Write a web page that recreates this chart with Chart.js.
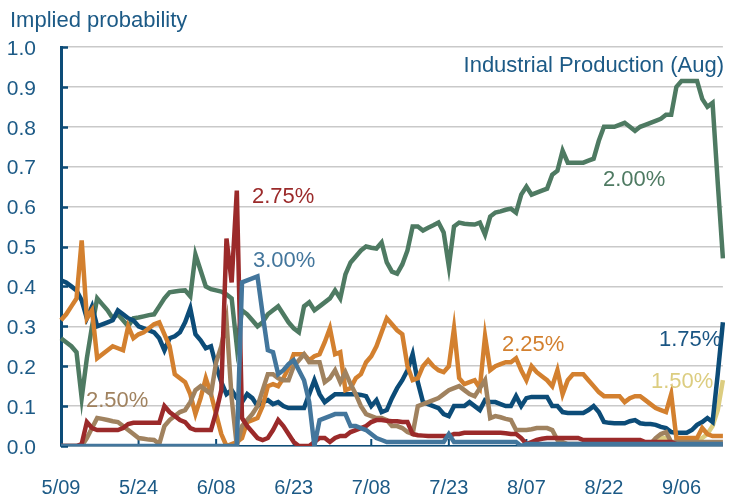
<!DOCTYPE html>
<html>
<head>
<meta charset="utf-8">
<script src="https://cdn.jsdelivr.net/npm/chart.js@4.4.0/dist/chart.umd.min.js"></script>
<style>
  body { margin: 0; background: #fff; }
  canvas { display: block; }
</style>
</head>
<body>
<canvas id="probChart" width="731" height="497"></canvas>
<script>
// daily dates 5/09 .. 9/14, one tick label every 15 days
const monthSpans = [[5, 9, 31], [6, 1, 30], [7, 1, 31], [8, 1, 31], [9, 1, 14]];
const dates = [];
monthSpans.forEach(([m, from, to]) => {
  for (let d = from; d <= to; d++) dates.push(m + "/" + String(d).padStart(2, "0"));
});
const tickEvery = 15;

const rate300 = [
  0, 0, 0, 0, 0, 0, 0, 0, 0, 0,
  0, 0, 0, 0, 0, 0, 0, 0, 0, 0,
  0, 0, 0, 0, 0, 0, 0, 0, 0, 0,
  0, 0, 0, 0, 0, 0.41, 0.415, 0.42, 0.425, 0.33,
  0.24, 0.235, 0.18, 0.19, 0.205, 0.215, 0.19, 0.165, 0.11, 0.0,
  0.065, 0.07, 0.075, 0.08, 0.08, 0.08, 0.05, 0.05, 0.045, 0.04,
  0.03, 0.02, 0.015, 0.01, 0.01, 0.01, 0.01, 0.01, 0.01, 0.01,
  0.01, 0.01, 0.01, 0.01, 0.01, 0.03, 0.01, 0.01, 0.01, 0.01,
  0.01, 0.01, 0.01, 0.01, 0.01, 0.01, 0.01, 0.01, 0.01, 0.0,
  0.005, 0.005, 0.005, 0.005, 0.005, 0.005, 0.005, 0.005, 0.005, 0.005,
  0.005, 0.005, 0.005, 0.005, 0.005, 0.005, 0.005, 0.005, 0.005, 0.005,
  0.005, 0.005, 0.005, 0.005, 0.005, 0.005, 0.005, 0.005, 0.005, 0.005,
  0.005, 0.005, 0.005, 0.005, 0.005, 0.005, 0.005, 0.005, 0.005
];
const rate275 = [
  0, 0, 0, 0, 0.005, 0.06, 0.045, 0.04, 0.04, 0.04,
  0.04, 0.04, 0.045, 0.055, 0.058, 0.058, 0.058, 0.058, 0.058, 0.058,
  0.10, 0.085, 0.075, 0.065, 0.06, 0.045, 0.04, 0.04, 0.04, 0.04,
  0.085, 0.14, 0.52, 0.41, 0.64, 0.07, 0.05, 0.035, 0.02, 0.015,
  0.02, 0.04, 0.065, 0.05, 0.03, 0.01, 0.0, 0.0, 0.0, 0.01,
  0.02, 0.02, 0.01, 0.02, 0.025, 0.025, 0.035, 0.04, 0.045, 0.05,
  0.06, 0.065, 0.065, 0.063, 0.062, 0.062, 0.06, 0.06, 0.03, 0.027,
  0.026, 0.025, 0.025, 0.025, 0.025, 0.025, 0.03, 0.03, 0.033, 0.033,
  0.033, 0.033, 0.033, 0.033, 0.033, 0.033, 0.032, 0.03, 0.03, 0.02,
  0.005, 0.01, 0.015, 0.018, 0.02, 0.02, 0.02, 0.02, 0.02, 0.02,
  0.02, 0.015, 0.015, 0.015, 0.015, 0.015, 0.015, 0.015, 0.015, 0.015,
  0.015, 0.015, 0.015, 0.01, 0.01, 0.01, 0.01, 0.01, 0.01, 0.005,
  0, 0, 0, 0, 0, 0, 0, 0, 0
];
const rate250 = [
  0, 0, 0, 0, 0, 0.02, 0.045, 0.07, 0.068, 0.065,
  0.062, 0.06, 0.05, 0.04, 0.03, 0.02, 0.018, 0.016, 0.015, 0.005,
  0.05, 0.065, 0.075, 0.085, 0.09, 0.11, 0.14, 0.15, 0.14, 0.13,
  0.21, 0.25, 0.315, 0.12, 0.0, 0.05, 0.065, 0.08, 0.10, 0.14,
  0.18, 0.18, 0.17, 0.165, 0.165, 0.20, 0.215, 0.23, 0.21, 0.21,
  0.21, 0.16, 0.17, 0.19, 0.16, 0.185, 0.155, 0.13, 0.10, 0.08,
  0.075, 0.07, 0.07, 0.065, 0.05, 0.05, 0.045, 0.035, 0.03, 0.10,
  0.105, 0.11, 0.115, 0.12, 0.13, 0.14, 0.145, 0.15, 0.14, 0.13,
  0.125, 0.145, 0.165, 0.07, 0.075, 0.072, 0.068, 0.065, 0.04, 0.04,
  0.04, 0.042, 0.045, 0.045, 0.045, 0.04, 0.015, 0.01, 0.005, 0.005,
  0.005, 0.005, 0.005, 0.005, 0.005, 0.005, 0.005, 0.005, 0.005, 0.005,
  0.005, 0.005, 0.005, 0.005, 0.005, 0.02, 0.03, 0.035, 0.01, 0.01,
  0.01, 0.01, 0.01, 0.01, 0.01, 0.01, 0.01, 0.01, 0.01
];
const rate225 = [
  0.315, 0.33, 0.35, 0.37, 0.515, 0.32, 0.34, 0.22, 0.23, 0.24,
  0.25, 0.245, 0.24, 0.30, 0.27, 0.28, 0.285, 0.295, 0.305, 0.31,
  0.28, 0.25, 0.18, 0.17, 0.16, 0.13, 0.08, 0.12, 0.17, 0.13,
  0.08, 0.03, 0.0, 0.005, 0.01, 0.02, 0.06, 0.065, 0.07, 0.10,
  0.15, 0.155, 0.15, 0.17, 0.195, 0.23, 0.23, 0.23, 0.215, 0.225,
  0.23, 0.26, 0.295, 0.23, 0.235, 0.14, 0.145, 0.17, 0.18, 0.21,
  0.225, 0.25, 0.285, 0.32, 0.305, 0.29, 0.28, 0.20, 0.165, 0.17,
  0.20, 0.215, 0.20, 0.19, 0.185, 0.20, 0.295, 0.17, 0.155, 0.16,
  0.165, 0.145, 0.275, 0.19, 0.20, 0.205, 0.21, 0.21, 0.22, 0.19,
  0.165, 0.20, 0.185, 0.175, 0.165, 0.15, 0.19, 0.13, 0.165, 0.18,
  0.18, 0.18, 0.165, 0.15, 0.135, 0.125, 0.125, 0.125, 0.125, 0.11,
  0.12, 0.125, 0.125, 0.115, 0.105, 0.095, 0.09, 0.085, 0.13, 0.02,
  0.02, 0.02, 0.02, 0.02, 0.045, 0.03, 0.025, 0.025, 0.025
];
const rate200 = [
  0.27, 0.26, 0.25, 0.235, 0.12, 0.22, 0.30, 0.37, 0.355, 0.34,
  0.32, 0.33, 0.315, 0.30, 0.32, 0.322, 0.325, 0.328, 0.33, 0.35,
  0.37, 0.385, 0.387, 0.389, 0.39, 0.375, 0.48, 0.44, 0.40, 0.393,
  0.39, 0.387, 0.38, 0.37, 0.25, 0.34, 0.33, 0.315, 0.30, 0.31,
  0.33, 0.34, 0.35, 0.33, 0.31, 0.295, 0.285, 0.35, 0.36, 0.34,
  0.35, 0.36, 0.37, 0.39, 0.37, 0.43, 0.46, 0.475, 0.49, 0.50,
  0.497, 0.495, 0.51, 0.46, 0.437, 0.432, 0.455, 0.49, 0.55, 0.55,
  0.54, 0.547, 0.553, 0.56, 0.535, 0.45, 0.55, 0.56, 0.557, 0.556,
  0.555, 0.56, 0.53, 0.575, 0.585, 0.588, 0.592, 0.595, 0.585, 0.63,
  0.65, 0.63, 0.635, 0.64, 0.645, 0.68, 0.69, 0.74, 0.71, 0.71,
  0.71, 0.71, 0.715, 0.72, 0.765, 0.80, 0.80, 0.80, 0.805, 0.81,
  0.80, 0.79, 0.80, 0.805, 0.81, 0.815, 0.82, 0.83, 0.83, 0.90,
  0.915, 0.915, 0.915, 0.915, 0.87, 0.85, 0.86, 0.66, 0.47
];
const rate175 = [
  0.415, 0.41, 0.40, 0.39, 0.365, 0.32, 0.35, 0.30, 0.305, 0.31,
  0.315, 0.34, 0.33, 0.32, 0.315, 0.30, 0.295, 0.29, 0.285, 0.27,
  0.24, 0.27, 0.275, 0.285, 0.31, 0.345, 0.28, 0.265, 0.245, 0.25,
  0.20, 0.16, 0.13, 0.14, 0.12, 0.11, 0.13, 0.12, 0.10, 0.11,
  0.115, 0.105, 0.11, 0.10, 0.095, 0.095, 0.095, 0.095, 0.13, 0.165,
  0.13, 0.11, 0.12, 0.13, 0.13, 0.13, 0.13, 0.13, 0.128, 0.125,
  0.10, 0.115, 0.085, 0.09, 0.12, 0.145, 0.165, 0.19, 0.23, 0.16,
  0.11, 0.105, 0.10, 0.095, 0.08, 0.075, 0.10, 0.10, 0.10, 0.11,
  0.10, 0.09, 0.115, 0.11, 0.11, 0.105, 0.10, 0.10, 0.125, 0.10,
  0.12, 0.123, 0.123, 0.123, 0.123, 0.10, 0.10, 0.085, 0.083, 0.083,
  0.083, 0.083, 0.09, 0.10, 0.085, 0.06, 0.058, 0.057, 0.057, 0.057,
  0.062, 0.065, 0.057, 0.055, 0.055, 0.053, 0.048, 0.045, 0.035, 0.033,
  0.033, 0.033, 0.04, 0.053, 0.06, 0.07, 0.06, 0.18, 0.31
];
// 1.50% only starts trading near the end
const rate150 = [
  null, null, null, null, null, null, null, null, null, null,
  null, null, null, null, null, null, null, null, null, null,
  null, null, null, null, null, null, null, null, null, null,
  null, null, null, null, null, null, null, null, null, null,
  null, null, null, null, null, null, null, null, null, null,
  null, null, null, null, null, null, null, null, null, null,
  null, null, null, null, null, null, null, null, null, null,
  null, null, null, null, null, null, null, null, null, null,
  null, null, null, null, null, null, null, null, null, null,
  null, null, null, null, null, null, null, null, null, null,
  null, null, null, null, null, null, null, null, null, null,
  null, null, null, null, 0.0, 0.01, 0.02, 0.02, 0.01, 0.0,
  0.0, 0.0, 0.005, 0.01, 0.02, 0.03, 0.05, 0.09, 0.165
];

const navy = "#0c4c78";
const textColor = "#1c5a86";
const colors = {
  r300: "#43769c", r275: "#9b2a2a", r250: "#a0825f", r225: "#d3802f",
  r200: "#4e7a62", r175: "#0c4c78", r150: "#dccd80"
};

const seriesLabels = [
  { text: "2.75%", x: 252, y: 203, color: colors.r275 },
  { text: "3.00%", x: 253, y: 267, color: colors.r300 },
  { text: "2.00%", x: 603, y: 186, color: colors.r200 },
  { text: "2.25%", x: 502, y: 351, color: colors.r225 },
  { text: "2.50%", x: 86, y: 407, color: colors.r250 },
  { text: "1.75%", x: 659, y: 346, color: "#1a5583" },
  { text: "1.50%", x: 651, y: 388, color: colors.r150 }
];

const textPlugin = {
  id: "chartText",
  beforeDatasetsDraw(chart) {
    const { ctx, chartArea, scales } = chart;
    ctx.save();
    ctx.strokeStyle = navy;
    ctx.lineWidth = 2.5;
    scales.y.ticks.forEach(t => {
      const y = Math.round(scales.y.getPixelForValue(t.value)) + 0.5;
      ctx.beginPath();
      ctx.moveTo(chartArea.left, y);
      ctx.lineTo(chartArea.left + 7, y);
      ctx.stroke();
    });
    ctx.lineWidth = 2;
    for (let i = 0; i < dates.length; i += tickEvery) {
      const x = scales.x.getPixelForValue(i);
      ctx.beginPath();
      ctx.moveTo(x, chartArea.bottom);
      ctx.lineTo(x, chartArea.bottom - 7);
      ctx.stroke();
    }
    ctx.restore();
  },
  afterDraw(chart) {
    const ctx = chart.ctx;
    ctx.save();
    ctx.font = "22px 'Liberation Sans', Arial, sans-serif";
    ctx.textBaseline = "alphabetic";
    ctx.fillStyle = textColor;
    ctx.textAlign = "left";
    ctx.fillText("Implied probability", 10, 27);
    ctx.textAlign = "right";
    ctx.fillText("Industrial Production (Aug)", 724, 72);
    ctx.textAlign = "left";
    seriesLabels.forEach(l => {
      ctx.fillStyle = l.color;
      ctx.fillText(l.text, l.x, l.y);
    });
    ctx.restore();
  }
};

function line(data, color) {
  return {
    data: data,
    borderColor: color,
    borderWidth: 4.5,
    pointRadius: 0,
    fill: false,
    tension: 0
  };
}

Chart.defaults.font.family = "'Liberation Sans', Arial, sans-serif";
Chart.defaults.font.size = 20;

new Chart(document.getElementById("probChart").getContext("2d"), {
  type: "line",
  data: {
    labels: dates,
    datasets: [
      line(rate300, colors.r300),
      line(rate275, colors.r275),
      line(rate250, colors.r250),
      line(rate225, colors.r225),
      line(rate175, colors.r175),
      line(rate200, colors.r200),
      line(rate150, colors.r150)
    ]
  },
  options: {
    responsive: false,
    animation: false,
    layout: { padding: { top: 47, right: 0, left: 0, bottom: 0 } },
    plugins: { legend: { display: false }, tooltip: { enabled: false } },
    scales: {
      x: {
        afterFit: s => { s.height = 51; },
        grid: { display: false, drawTicks: false },
        border: { display: true, color: navy, width: 1.5 },
        ticks: {
          autoSkip: false,
          maxRotation: 0,
          padding: 30,
          color: textColor,
          callback: (v, i) => (i % tickEvery === 0 ? dates[i] : null)
        }
      },
      y: {
        min: 0,
        max: 1,
        afterFit: s => { s.width = 61; },
        grid: { color: "#c9c9c9", lineWidth: 1.5, drawTicks: false },
        border: { display: true, color: navy, width: 3 },
        ticks: {
          stepSize: 0.1,
          padding: 25,
          labelOffset: 2,
          color: textColor,
          font: { size: 21 },
          callback: v => v.toFixed(1)
        }
      }
    }
  },
  plugins: [textPlugin]
});
</script>
</body>
</html>
